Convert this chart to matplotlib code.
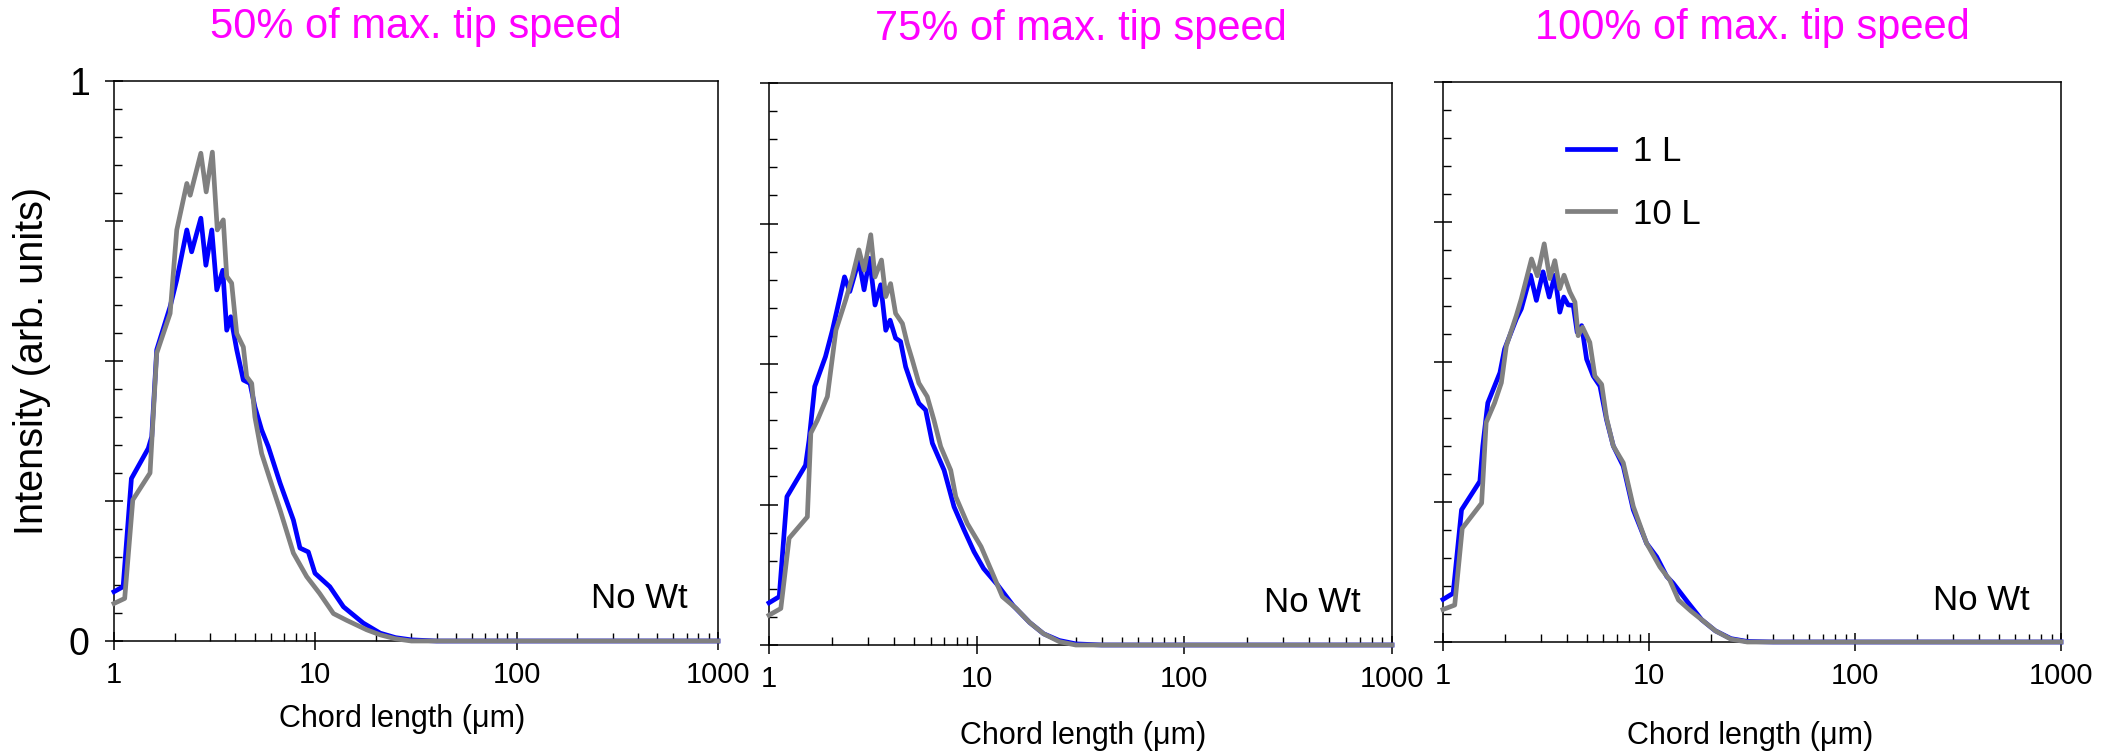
import matplotlib
matplotlib.use("Agg")
import matplotlib.pyplot as plt
from matplotlib.ticker import FixedLocator, NullFormatter, FixedFormatter

plt.rcParams['font.family'] = ['Liberation Sans', 'DejaVu Sans']

# panel titles
titles = ["50% of max. tip speed", "75% of max. tip speed", "100% of max. tip speed"]
series_labels = ["1 L", "10 L"]

# 50 % tip speed, 1 L (blue)
x50_1 = [1.0, 1.11, 1.22, 1.48, 1.54, 1.63, 1.90, 2.05, 2.30, 2.43, 2.70, 2.86, 3.06, 3.24, 3.47,
         3.63, 3.80, 4.07, 4.39, 4.74, 5.01, 5.41, 5.84, 6.68, 7.78, 8.39, 9.23, 9.96, 11.8, 13.8,
         17.3, 21, 25, 30, 40, 1000]
y50_1 = [0.088, 0.097, 0.29, 0.344, 0.365, 0.52, 0.597, 0.645, 0.734, 0.695, 0.755, 0.671, 0.734,
         0.627, 0.662, 0.555, 0.579, 0.52, 0.466, 0.46, 0.418, 0.377, 0.347, 0.282, 0.216, 0.166,
         0.159, 0.121, 0.097, 0.061, 0.032, 0.014, 0.006, 0.002, 0.0, 0.0]
# 50 % tip speed, 10 L (grey)
x50_10 = [1.0, 1.13, 1.24, 1.51, 1.63, 1.90, 2.05, 2.30, 2.39, 2.70, 2.87, 3.08, 3.26, 3.49, 3.63,
          3.84, 4.07, 4.39, 4.56, 4.83, 5.01, 5.41, 5.96, 6.68, 7.78, 9.06, 10.5, 12.3, 14.3, 18,
          21, 25, 30, 1000]
y50_10 = [0.067, 0.076, 0.252, 0.30, 0.514, 0.585, 0.734, 0.817, 0.796, 0.871, 0.802, 0.873, 0.734,
          0.752, 0.651, 0.639, 0.549, 0.525, 0.472, 0.46, 0.40, 0.335, 0.288, 0.234, 0.157, 0.115,
          0.085, 0.049, 0.037, 0.020, 0.011, 0.004, 0.0, 0.0]

# 75 % tip speed, 1 L
x75_1 = [1.0, 1.12, 1.22, 1.50, 1.56, 1.66, 1.87, 2.02, 2.31, 2.45, 2.71, 2.87, 3.05, 3.24, 3.45,
         3.65, 3.83, 4.07, 4.30, 4.55, 4.90, 5.27, 5.68, 6.12, 6.97, 7.78, 8.69, 9.71, 10.8, 12.6,
         15, 18, 21, 25, 30, 40, 1000]
y75_1 = [0.075, 0.086, 0.264, 0.320, 0.365, 0.460, 0.513, 0.560, 0.655, 0.629, 0.685, 0.632, 0.688,
         0.605, 0.641, 0.560, 0.578, 0.546, 0.540, 0.495, 0.460, 0.430, 0.418, 0.359, 0.311, 0.246,
         0.205, 0.166, 0.136, 0.107, 0.07, 0.04, 0.02, 0.008, 0.002, 0.0, 0.0]
# 75 % tip speed, 10 L
x75_10 = [1.0, 1.14, 1.25, 1.53, 1.59, 1.71, 1.91, 2.10, 2.34, 2.52, 2.71, 2.87, 3.09, 3.24, 3.48,
          3.65, 3.85, 4.07, 4.39, 4.63, 4.90, 5.27, 5.78, 6.23, 6.71, 7.50, 7.93, 9.02, 10.5, 12.1,
          13.3, 15.5, 18, 21, 25, 30, 1000]
y75_10 = [0.053, 0.065, 0.190, 0.228, 0.377, 0.400, 0.442, 0.560, 0.614, 0.655, 0.703, 0.667, 0.730,
          0.655, 0.685, 0.620, 0.643, 0.590, 0.572, 0.537, 0.507, 0.466, 0.442, 0.400, 0.353, 0.311,
          0.264, 0.216, 0.175, 0.122, 0.086, 0.065, 0.04, 0.02, 0.006, 0.0, 0.0]

# 100 % tip speed, 1 L
x100_1 = [1.0, 1.12, 1.23, 1.51, 1.56, 1.65, 1.89, 1.99, 2.27, 2.40, 2.66, 2.84, 3.06, 3.28, 3.49,
          3.69, 3.86, 4.05, 4.29, 4.48, 4.71, 4.98, 5.36, 5.78, 6.22, 6.71, 7.50, 8.39, 9.74, 10.9,
          12.2, 13.1, 15.5, 18, 21, 25, 30, 40, 1000]
y100_1 = [0.076, 0.087, 0.236, 0.287, 0.350, 0.427, 0.481, 0.523, 0.577, 0.595, 0.655, 0.610, 0.661,
          0.616, 0.655, 0.589, 0.616, 0.602, 0.601, 0.553, 0.565, 0.505, 0.475, 0.457, 0.397, 0.350,
          0.314, 0.236, 0.176, 0.152, 0.117, 0.105, 0.07, 0.04, 0.02, 0.006, 0.001, 0.0, 0.0]
# 100 % tip speed, 10 L
x100_10 = [1.0, 1.14, 1.24, 1.54, 1.62, 1.78, 1.92, 2.03, 2.27, 2.40, 2.69, 2.87, 3.10, 3.30, 3.49,
           3.69, 3.87, 4.13, 4.37, 4.53, 4.76, 5.16, 5.46, 5.89, 6.22, 6.71, 7.50, 8.39, 9.74, 11.3,
           12.6, 13.9, 16, 18, 21, 25, 30, 1000]
y100_10 = [0.058, 0.066, 0.203, 0.248, 0.392, 0.427, 0.463, 0.529, 0.583, 0.613, 0.684, 0.654, 0.711,
           0.649, 0.681, 0.631, 0.655, 0.625, 0.607, 0.547, 0.562, 0.535, 0.475, 0.460, 0.400, 0.350,
           0.320, 0.242, 0.176, 0.134, 0.111, 0.075, 0.055, 0.04, 0.02, 0.005, 0.0, 0.0]

panels = [
    (x50_1, y50_1, x50_10, y50_10),
    (x75_1, y75_1, x75_10, y75_10),
    (x100_1, y100_1, x100_10, y100_10),
]

x_ticks = [1, 10, 100, 1000]
x_tick_labels = ["1", "10", "100", "1000"]
y_major = [0, 0.25, 0.5, 0.75, 1]
y_tick_labels = ["0", "", "", "", "1"]

W, H = 2103, 752
# axes boxes in pixels: left, right, top, bottom
boxes = [(114, 718, 81, 641), (769, 1392, 83, 645), (1443, 2061, 82, 642)]
xlabel_pos = [(0.477, -0.113), (0.504, -0.135), (0.497, -0.141)]

fig = plt.figure(figsize=(W / 100, H / 100), dpi=100)

for i, (l, r, t, b) in enumerate(boxes):
    ax = fig.add_axes([l / W, 1 - b / H, (r - l) / W, (b - t) / H])
    x1, y1, x2, y2 = panels[i]
    ax.plot(x1, y1, color="#0000FF", lw=3.4, label=series_labels[0], clip_on=False, zorder=3)
    ax.plot(x2, y2, color="#808080", lw=3.4, label=series_labels[1], clip_on=False, zorder=4)

    ax.set_xscale("log")
    ax.set_xlim(1, 1000)
    ax.set_ylim(0, 1)

    ax.xaxis.set_major_locator(FixedLocator(x_ticks))
    ax.xaxis.set_major_formatter(FixedFormatter(x_tick_labels))
    ax.xaxis.set_minor_locator(FixedLocator([m * d for d in (1, 10, 100) for m in range(2, 10)]))
    ax.xaxis.set_minor_formatter(NullFormatter())

    ax.yaxis.set_major_locator(FixedLocator(y_major))
    ax.yaxis.set_minor_locator(FixedLocator([k * 0.05 for k in range(21)]))
    if i == 0:
        ax.yaxis.set_major_formatter(FixedFormatter(y_tick_labels))
    else:
        ax.yaxis.set_major_formatter(NullFormatter())

    ax.tick_params(which="major", direction="inout", length=13, width=1.1, top=False, right=False)
    ax.tick_params(which="minor", direction="in", length=6, width=1.0, top=False, right=False)
    ax.tick_params(axis="x", which="major", labelsize=21, pad=8)
    ax.tick_params(axis="y", which="major", labelsize=27, pad=11)
    for s in ax.spines.values():
        s.set_linewidth(1.1)

    ax.set_title(titles[i], color="#FF00FF", fontsize=30, pad=31)
    ax.set_xlabel("Chord length (μm)", fontsize=22)
    ax.xaxis.set_label_coords(*xlabel_pos[i])
    ax.text(0.95, 0.075, "No Wt", transform=ax.transAxes, ha="right", va="center", fontsize=25)

    if i == 0:
        ax.set_ylabel("Intensity (arb. units)", fontsize=28.5)
        ax.yaxis.set_label_coords(-0.105, 0.5)
    if i == 2:
        ax.legend(loc="center left", bbox_to_anchor=(0.2, 0.82), frameon=False, fontsize=25,
                  handlelength=1.4, handletextpad=0.5, labelspacing=0.85, borderpad=0,
                  borderaxespad=0)

fig.savefig("out.png", dpi=100)
